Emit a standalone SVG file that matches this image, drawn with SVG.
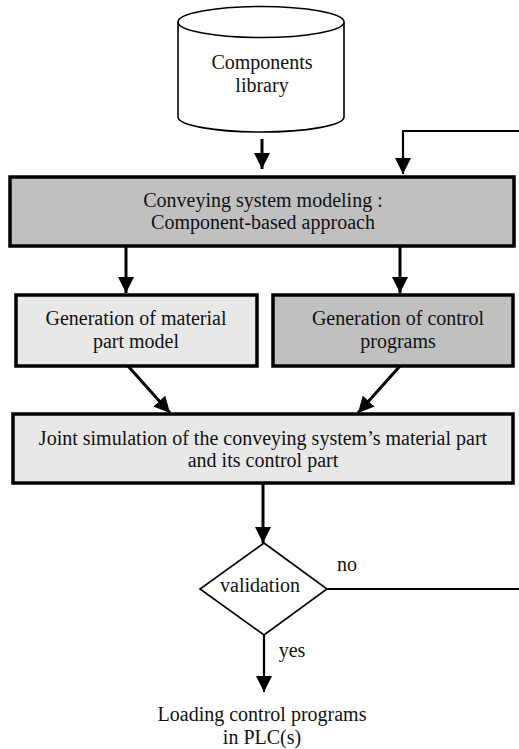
<svg xmlns="http://www.w3.org/2000/svg" width="519" height="749" viewBox="0 0 519 749">
  <style>
    text { font-family: "Liberation Serif", "Times New Roman", serif; font-size: 20px; fill: #111; text-anchor: middle; }
    .box { stroke: #000; stroke-width: 3.5; }
    .dark { fill: #c0c0c0; }
    .light { fill: #e8e8e8; }
    .thin { fill: #fff; stroke: #000; stroke-width: 1.6; }
    .conn { fill: none; stroke: #000; stroke-width: 3; }
    .connthin { fill: none; stroke: #000; stroke-width: 2.2; }
  </style>
  <defs>
    <marker id="arrow" markerUnits="userSpaceOnUse" markerWidth="16" markerHeight="16" refX="16" refY="8" orient="auto">
      <path d="M0,0 L16,8 L0,16 z" fill="#000"/>
    </marker>
  </defs>
  <rect width="519" height="749" fill="#fff"/>

  <g id="library">
    <path class="thin" d="M178,22 L178,117 A83,15 0 0 0 344,117 L344,22"/>
    <ellipse class="thin" cx="261" cy="22" rx="83" ry="15.5"/>
    <text x="262" y="69">Components</text>
    <text x="262" y="92">library</text>
  </g>

  <g id="modeling">
    <rect class="box dark" x="10" y="177" width="504" height="69"/>
    <text x="263" y="207">Conveying system modeling :</text>
    <text x="263" y="229">Component-based approach</text>
  </g>

  <g id="material">
    <rect class="box light" x="16" y="295" width="241" height="71"/>
    <text x="136" y="325">Generation of material</text>
    <text x="136" y="348">part model</text>
  </g>

  <g id="control">
    <rect class="box dark" x="273" y="295" width="240" height="71"/>
    <text x="398" y="325">Generation of control</text>
    <text x="398" y="348">programs</text>
  </g>

  <g id="simulation">
    <rect class="box light" x="13" y="414" width="500" height="69"/>
    <text x="263" y="445">Joint simulation of the conveying system’s material part</text>
    <text x="263" y="467">and its control part</text>
  </g>

  <g id="validation">
    <polygon class="thin" points="264,543 327,589 264,635 200,589"/>
    <text x="260" y="592">validation</text>
  </g>

  <g id="loading">
    <text x="262" y="721">Loading control programs</text>
    <text x="262" y="744">in PLC(s)</text>
  </g>

  <g id="connectors">
    <line class="conn" x1="262" y1="139" x2="262" y2="169" marker-end="url(#arrow)"/>
    <polyline class="connthin" points="519,131 403,131 403,174" marker-end="url(#arrow)"/>
    <line class="conn" x1="126" y1="246" x2="126" y2="293" marker-end="url(#arrow)"/>
    <line class="conn" x1="400" y1="246" x2="400" y2="293" marker-end="url(#arrow)"/>
    <line class="conn" x1="128" y1="366" x2="170" y2="413" marker-end="url(#arrow)"/>
    <line class="conn" x1="400" y1="366" x2="358" y2="413" marker-end="url(#arrow)"/>
    <line class="conn" x1="263" y1="483" x2="263" y2="543" marker-end="url(#arrow)"/>
    <line class="connthin" x1="327" y1="589" x2="519" y2="589"/>
    <text x="347" y="571">no</text>
    <line class="connthin" x1="264" y1="635" x2="264" y2="692" marker-end="url(#arrow)"/>
    <text x="292" y="657">yes</text>
  </g>
</svg>
